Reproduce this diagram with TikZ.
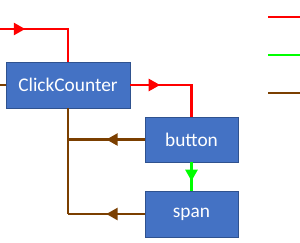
\documentclass[tikz,border=0pt]{standalone}
\usepackage{fontspec}
\setmainfont{Carlito}
\usepackage{tikz}
\usetikzlibrary{arrows.meta, calc, decorations.markings}
\usepackage{xcolor}

\definecolor{boxblue}{HTML}{4472C4}
\definecolor{boxedge}{HTML}{2F528F}
\definecolor{propred}{HTML}{FF0000}
\definecolor{evgreen}{HTML}{00FF00}
\definecolor{cbbrown}{HTML}{7B3F00}

\begin{document}
\begin{tikzpicture}[
    x=0.03cm,
    y=-0.03cm,
    every node/.style={font=\fontsize{16.5}{19}\selectfont},
    comp/.style={
        draw=boxedge,
        line width=0.6pt,
        fill=boxblue,
        text=white,
        inner sep=0pt
    },
    flow/.style={
        line width=2.1pt
    },
    midarrow/.style={
        postaction={decorate},
        decoration={
            markings,
            mark=at position #1 with {\arrow{Triangle[length=0.34cm, width=0.36cm]}}
        }
    }
]

\useasboundingbox (0,0) rectangle (300,242);

% ============================================================
% COMPONENTES
% ============================================================

\node[
    comp,
    minimum width=3.72cm,
    minimum height=1.38cm
] (counter) at (68,85)
{ClickCounter};

\node[
    comp,
    minimum width=2.79cm,
    minimum height=1.35cm
] (button) at (191.5,139.5)
{button};

\node[
    comp,
    minimum width=2.79cm,
    minimum height=1.38cm
] (span) at (191.5,214)
{span};

% pontas soltas
\coordinate (propin) at (0,29);
\coordinate (cbout) at (0,85);

% ============================================================
% PROPS (vermelho)
% ============================================================

\draw[
    flow,
    propred,
    midarrow=0.25
]
(propin) -| (counter.north);

\draw[
    flow,
    propred,
    midarrow=0.32
]
(counter.east) -| (button.north);

% ============================================================
% EVENTO (verde)
% ============================================================

\draw[
    flow,
    evgreen,
    midarrow=0.66
]
(button.south) -- (span.north);

% ============================================================
% CALLBACKS (marrom)
% ============================================================

\draw[
    flow,
    cbbrown
]
(counter.west) -- (cbout);

\draw[
    flow,
    cbbrown
]
(counter.south) -- (span.west -| counter.south);

\draw[
    flow,
    cbbrown,
    midarrow=0.5
]
(button.west) -- (button.west -| counter.south);

\draw[
    flow,
    cbbrown,
    midarrow=0.5
]
(span.west) -- (span.west -| counter.south);

% ============================================================
% LEGENDA
% ============================================================

\coordinate (lgA) at (268,17);
\coordinate (lgB) at (268,55);
\coordinate (lgC) at (268,93);

\draw[flow, propred] (lgA) -- ++(32,0);
\draw[flow, evgreen] (lgB) -- ++(32,0);
\draw[flow, cbbrown] (lgC) -- ++(32,0);

\end{tikzpicture}
\end{document}
